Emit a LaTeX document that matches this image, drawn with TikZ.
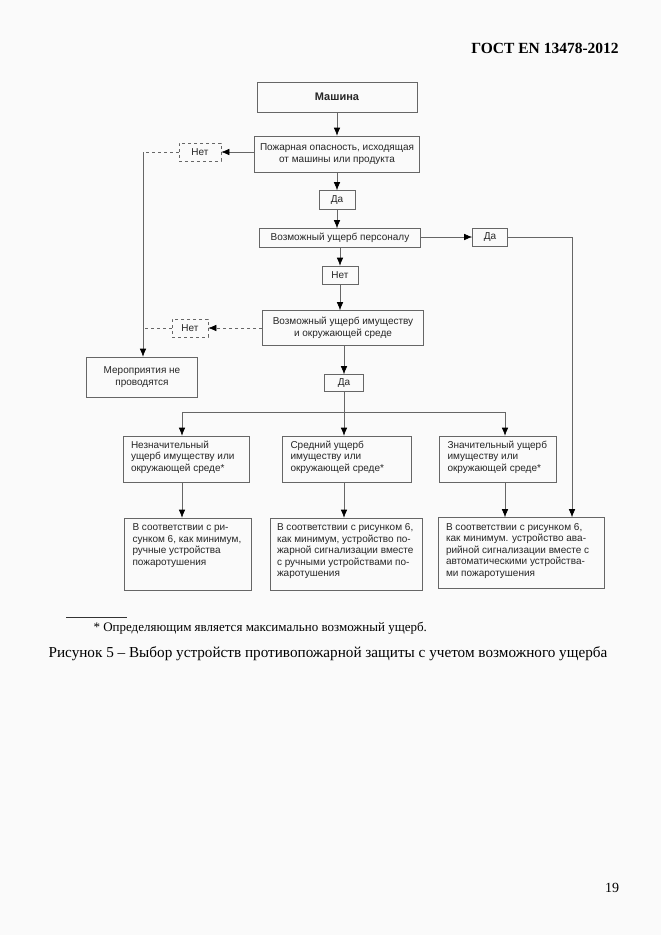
\documentclass[tikz,border=0pt]{standalone}
\usepackage{fontspec}
\setmainfont{Liberation Serif}
\newfontfamily\boxfont{Liberation Sans}
\usetikzlibrary{arrows.meta}

\tikzset{
    blok/.style = {draw = black!60, line width = 0.6pt, text = black!85, inner sep = 0pt,
        font = \boxfont\fontsize{10}{12}\selectfont, align = center},
    otvet/.style = {blok, dashed},
    pil/.style = {draw = black!60, line width = 0.6pt,
        -{Latex[length = 8pt, width = 6.5pt, color = black]}},
    linje/.style = {draw = black!60, line width = 0.6pt}
}

\newcommand{\venstre}[3]{\parbox[t][#1][t]{#2}{\raggedright #3}}

\begin{document}
\begin{tikzpicture} [x = 1pt, y = -1pt]
    \fill[black!2] (0, 0) rectangle (661, 935);
    \useasboundingbox (0, 0) rectangle (661, 935);

    \node[font = \bfseries\fontsize{15.5}{18}\selectfont] (gost) at (545, 48) {ГОСТ EN 13478-2012};

    % upper chain
    \node[blok, minimum width = 160, minimum height = 30,
        font = \boxfont\bfseries\fontsize{11}{13}\selectfont] (mash) at (337, 97) {Машина};
    \node[blok, minimum width = 165, minimum height = 36] (fare) at (337, 154)
        {Пожарная опасность, исходящая\\от машины или продукта};
    \node[otvet, minimum width = 42, minimum height = 18] (net1) at (200, 152) {Нет};
    \node[blok, minimum width = 36, minimum height = 19] (da1) at (337, 200) {Да};
    \node[blok, minimum width = 161, minimum height = 19] (pers) at (340, 238)
        {Возможный ущерб персоналу};
    \node[blok, minimum width = 35, minimum height = 18] (da2) at (490, 237) {Да};
    \node[blok, minimum width = 36, minimum height = 18] (net2) at (340, 275) {Нет};
    \node[blok, minimum width = 161, minimum height = 35] (eiend) at (343, 328)
        {Возможный ущерб имуществу\\и окружающей среде};
    \node[otvet, minimum width = 36, minimum height = 18] (net3) at (190, 328) {Нет};
    \node[blok, minimum width = 111, minimum height = 40] (ingen) at (142, 377)
        {Мероприятия не\\проводятся};
    \node[blok, minimum width = 39, minimum height = 17] (da3) at (344, 383) {Да};

    % damage classes
    \node[blok, inner xsep = 8, inner ysep = 5, font = \boxfont\fontsize{10}{11.3}\selectfont]
        (liten) at (186, 459) {\venstre{36pt}{110pt}{Незначительный\\ущерб имуществу или\\окружающей среде*}};
    \node[blok, inner xsep = 8, inner ysep = 5, font = \boxfont\fontsize{10}{11.3}\selectfont]
        (middels) at (347, 459) {\venstre{36pt}{113pt}{Средний ущерб\\имуществу или\\окружающей среде*}};
    \node[blok, inner xsep = 8, inner ysep = 5, font = \boxfont\fontsize{10}{11.3}\selectfont]
        (stor) at (498, 459) {\venstre{36pt}{101pt}{Значительный ущерб\\имуществу или\\окружающей среде*}};

    % measures
    \node[blok, inner xsep = 8, inner ysep = 6, font = \boxfont\fontsize{10}{11.4}\selectfont]
        (tiltak1) at (188, 554) {\venstre{60pt}{111pt}{В соответствии с ри-\\сунком 6, как минимум,\\ручные устройства\\пожаротушения}};
    \node[blok, inner xsep = 7, inner ysep = 6, font = \boxfont\fontsize{10}{11.4}\selectfont]
        (tiltak2) at (346, 554) {\venstre{60pt}{138pt}{В соответствии с рисунком 6,\\как минимум, устройство по-\\жарной сигнализации вместе\\с ручными устройствами по-\\жаротушения}};
    \node[blok, inner xsep = 8, inner ysep = 6, font = \boxfont\fontsize{10}{11.4}\selectfont]
        (tiltak3) at (521, 553) {\venstre{59pt}{150pt}{В соответствии с рисунком 6,\\как минимум. устройство ава-\\рийной сигнализации вместе с\\автоматическими устройства-\\ми пожаротушения}};

    \coordinate (vk) at (143, 0);
    \coordinate (hk) at (572, 0);
    \coordinate (g1) at (182, 412);
    \coordinate (g2) at (344, 412);
    \coordinate (g3) at (505, 412);

    % connectors
    \draw[pil] (mash) -- (mash |- fare.north);
    \draw[pil] (fare.west |- net1) -- (net1.east);
    \draw[pil] (fare) -- (fare |- da1.north);
    \draw[pil] (da1) -- (da1 |- pers.north);
    \draw[pil] (pers.east |- da2) -- (da2.west);
    \draw[pil] (pers.south -| net2) -- (net2.north);
    \draw[pil] (net2) -- (net2 |- eiend.north);
    \draw[pil, dashed] (eiend.west |- net3) -- (net3.east);
    \draw[pil] (eiend.south -| da3) -- (da3.north);

    \draw[linje, dashed] (net1.west) -- (vk |- net1);
    \draw[linje, dashed] (net3.west) -- (vk |- net3);
    \draw[pil] (vk |- net1) -- (vk |- ingen.north);

    \draw[pil] (da2.east) -| (hk |- tiltak3.north);

    \draw[linje] (da3.south) -- (g2);
    \draw[linje] (g1) -- (g3);
    \draw[pil] (g1) -- (g1 |- liten.north);
    \draw[pil] (g2) -- (g2 |- middels.north);
    \draw[pil] (g3) -- (g3 |- stor.north);

    \draw[pil] (g1 |- liten.south) -- (g1 |- tiltak1.north);
    \draw[pil] (g2 |- middels.south) -- (g2 |- tiltak2.north);
    \draw[pil] (g3 |- stor.south) -- (g3 |- tiltak3.north);

    % footnote and caption
    \draw[black!80] (66, 617) coordinate (strek) -- (127, 617);
    \node[anchor = west, font = \fontsize{13}{15}\selectfont] (fotnote) at (90, 628)
        {* Определяющим является максимально возможный ущерб.};
    \node[font = \fontsize{15.2}{17}\selectfont] (tittel) at (328, 654)
        {Рисунок 5 -- Выбор устройств противопожарной защиты с учетом возможного ущерба};
    \node[font = \fontsize{14}{16}\selectfont] (side) at (612, 888) {19};
\end{tikzpicture}
\end{document}
